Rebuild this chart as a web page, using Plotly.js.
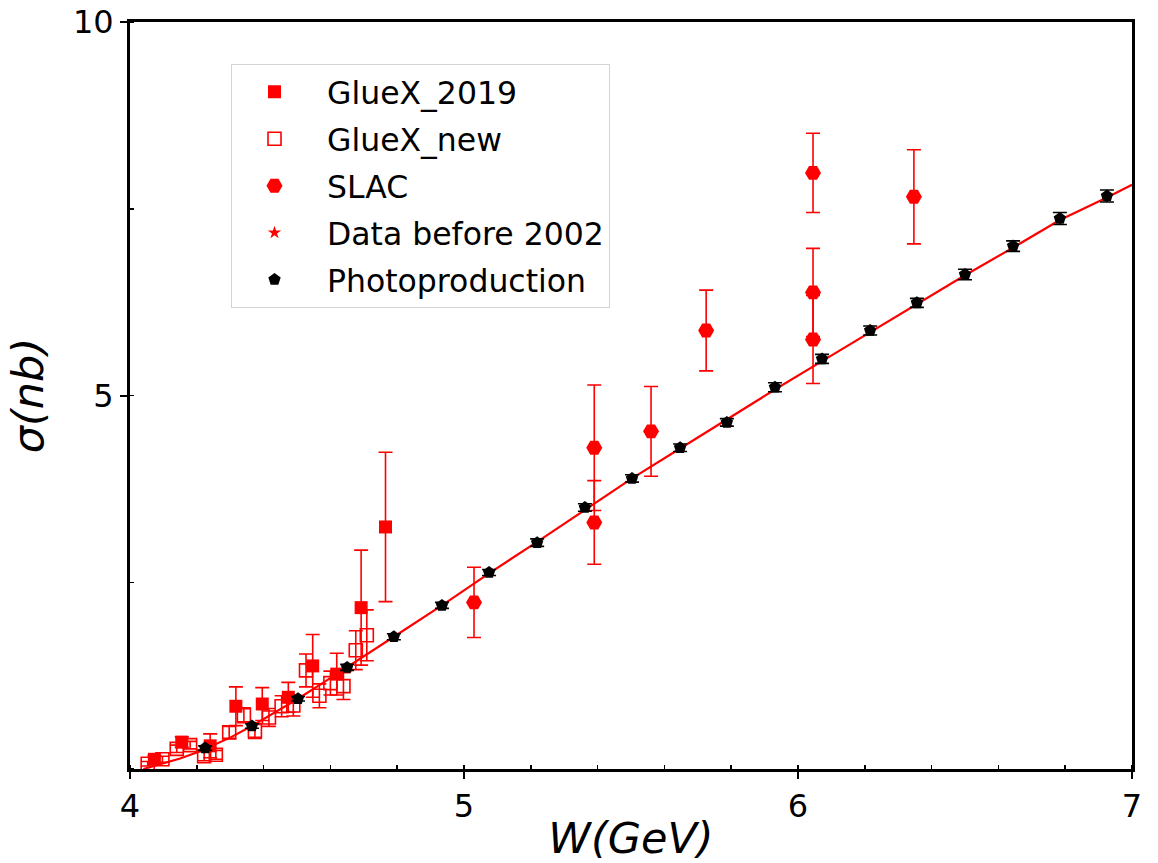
<!DOCTYPE html>
<html>
<head>
<meta charset="utf-8">
<script src="https://cdn.plot.ly/plotly-3.0.1.min.js"></script>
<style>html,body{margin:0;padding:0;background:#fff;}#chart{width:1158px;height:863px;}</style>
</head>
<body>
<div id="chart"></div>
<script>
// Photoproduction (black pentagons)
var photoW   = [4.225,4.365,4.503,4.65,4.79,4.934,5.075,5.219,5.362,5.503,5.647,5.787,5.931,6.072,6.216,6.356,6.50,6.644,6.784,6.925];
var photoSig = [0.28,0.575,0.94,1.36,1.77,2.19,2.63,3.03,3.50,3.89,4.30,4.64,5.11,5.49,5.87,6.24,6.62,7.00,7.37,7.67];
var photoErr = [0.03,0.03,0.03,0.04,0.04,0.04,0.04,0.05,0.05,0.05,0.05,0.05,0.06,0.06,0.06,0.06,0.07,0.07,0.08,0.08];

// Fit curve (red line)
var curveW   = [4.04,4.10,4.15,4.20,4.225,4.30,4.365,4.43,4.503,4.58,4.65,4.72,4.79,4.934,5.075,5.219,5.362,5.503,5.647,5.787,5.931,6.072,6.216,6.356,6.50,6.644,6.784,6.925,7.0];
var curveSig = [0.0,0.08,0.14,0.22,0.27,0.42,0.575,0.75,0.94,1.16,1.36,1.56,1.77,2.19,2.62,3.04,3.47,3.89,4.29,4.68,5.08,5.46,5.85,6.23,6.61,6.98,7.35,7.65,7.82];

// GlueX_2019 (filled squares)
var g19W   = [4.073,4.155,4.24,4.317,4.396,4.474,4.547,4.619,4.692,4.765];
var g19Sig = [0.13,0.36,0.31,0.84,0.87,0.96,1.38,1.27,2.16,3.24];
var g19Err = [0.05,0.07,0.16,0.26,0.22,0.20,0.42,0.28,0.77,1.00];

// GlueX_new (open squares)
var gnW   = [4.053,4.097,4.14,4.18,4.222,4.257,4.297,4.341,4.374,4.416,4.454,4.489,4.527,4.567,4.60,4.639,4.676,4.709];
var gnSig = [0.07,0.13,0.27,0.32,0.17,0.19,0.49,0.72,0.51,0.69,0.84,0.85,1.32,0.98,1.15,1.11,1.59,1.79];
var gnErr = [0.03,0.04,0.05,0.05,0.06,0.06,0.08,0.10,0.10,0.12,0.14,0.14,0.22,0.16,0.16,0.18,0.26,0.34];

// SLAC (filled hexagons)
var slacW   = [5.03,5.39,5.39,5.56,5.725,6.045,6.045,6.045,6.347];
var slacSig = [2.23,4.30,3.30,4.52,5.87,7.98,6.38,5.75,7.66];
var slacErr = [0.47,0.84,0.56,0.60,0.54,0.53,0.59,0.59,0.63];

// Data before 2002 (no point falls inside the plotted range)
var oldW = [null], oldSig = [null], oldErr = [null];

var xTicks = [4,5,6,7];
var yTicks = [5,10];
var seriesNames = ['GlueX_2019','GlueX_new','SLAC','Data before 2002','Photoproduction'];

var RED = '#ff0000';
var FONT = 'DejaVu Sans, sans-serif';
var PAD = '\u00a0';

function errY(arr, color){
  return {type:'data', array:arr, visible:true, color:color, thickness:1.6, width:7};
}

var traces = [
  {x:curveW, y:curveSig, mode:'lines', line:{color:RED, width:2.2}, showlegend:false, hoverinfo:'skip'},
  {x:g19W, y:g19Sig, mode:'markers', name:PAD+seriesNames[0], legendgroup:'a',
   marker:{symbol:'square', size:13, color:RED}, error_y:errY(g19Err, RED)},
  {x:gnW, y:gnSig, mode:'markers', name:PAD+seriesNames[1], legendgroup:'b',
   marker:{symbol:'square-open', size:13, color:RED, line:{width:1.6, color:RED}}, error_y:errY(gnErr, RED)},
  {x:slacW, y:slacSig, mode:'markers', name:PAD+seriesNames[2], legendgroup:'c',
   marker:{symbol:'hexagon2', size:16, color:RED}, error_y:errY(slacErr, RED)},
  {x:oldW, y:oldSig, mode:'markers', name:PAD+seriesNames[3], legendgroup:'d',
   marker:{symbol:'star', size:10, color:RED}, error_y:errY(oldErr, RED)},
  {x:photoW, y:photoSig, mode:'markers', name:PAD+seriesNames[4], legendgroup:'e',
   marker:{symbol:'pentagon', size:13, color:'#000'}, error_y:errY(photoErr, '#000')}
];

var layout = {
  width:1158, height:863,
  margin:{l:130, r:26, t:22, b:94},
  paper_bgcolor:'#fff', plot_bgcolor:'#fff',
  font:{family:FONT, color:'#000'},
  xaxis:{
    range:[4,7], tickvals:xTicks, ticktext:xTicks.map(String),
    ticks:'outside', ticklen:7, tickwidth:2, tickcolor:'#000',
    showline:true, linewidth:3, linecolor:'#000', mirror:true,
    showgrid:false, zeroline:false,
    tickfont:{size:32, family:FONT},
    minor:{ticks:'inside', ticklen:4, tickwidth:1.5, tickcolor:'#000', dtick:0.2, tick0:4, showgrid:false},
    title:{text:'W(GeV)', font:{size:43, family:FONT, style:'italic'}, standoff:10}
  },
  yaxis:{
    range:[0,10], tickvals:yTicks, ticktext:yTicks.map(String),
    ticks:'outside', ticklen:7, tickwidth:2, tickcolor:'#000',
    showline:true, linewidth:3, linecolor:'#000', mirror:true,
    showgrid:false, zeroline:false,
    tickfont:{size:32, family:FONT},
    minor:{ticks:'inside', ticklen:4, tickwidth:1.5, tickcolor:'#000', dtick:2.5, tick0:0, showgrid:false},
    title:{text:'σ(nb)', font:{size:43, family:FONT, style:'italic'}, standoff:16}
  },
  legend:{
    x:0.1008, y:0.944, xanchor:'left', yanchor:'top',
    bgcolor:'rgba(255,255,255,0.9)', bordercolor:'#d4d4d4', borderwidth:1,
    font:{size:31.5, family:FONT, color:'#000'},
    traceorder:'grouped', tracegroupgap:3, itemwidth:75
  },
  showlegend:true
};

Plotly.newPlot('chart', traces, layout, {displayModeBar:false, staticPlot:true});
</script>
</body>
</html>
